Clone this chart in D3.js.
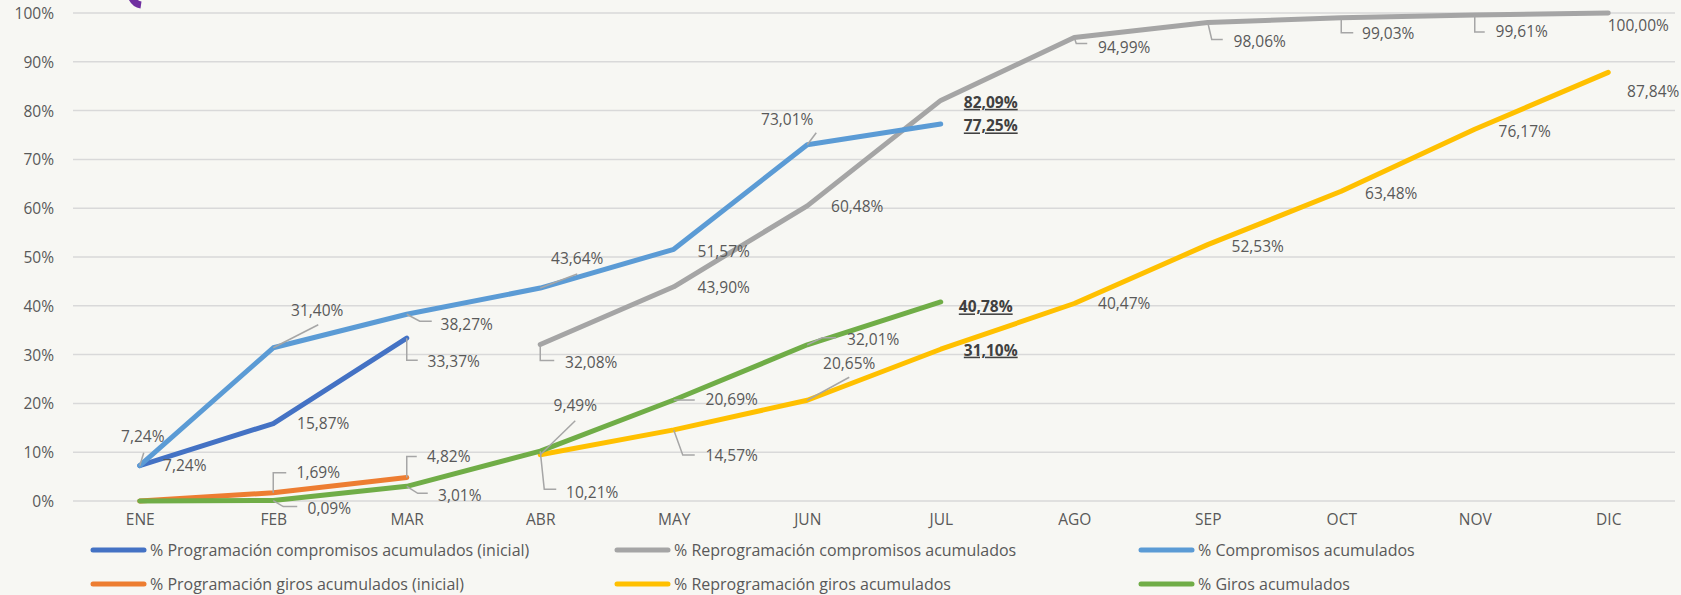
<html>
<head>
<meta charset="utf-8">
<title>Programación y ejecución acumulada</title>
<script src="https://cdn.jsdelivr.net/npm/d3@7"></script>
<style>
  body { margin: 0; background: #F7F7F3; }
  svg text { font-family: "Open Sans", "Noto Sans", sans-serif; }
</style>
</head>
<body>
<svg width="1681" height="595"></svg>
<script type="text/javascript">

// ---- data ----
var months = ["ENE", "FEB", "MAR", "ABR", "MAY", "JUN", "JUL", "AGO", "SEP", "OCT", "NOV", "DIC"];
var yTicks = [0, 10, 20, 30, 40, 50, 60, 70, 80, 90, 100];

var progCompromisos   = [7.24, 15.87, 33.37, null, null, null, null, null, null, null, null, null];
var reprogCompromisos = [null, null, null, 32.08, 43.90, 60.48, 82.09, 94.99, 98.06, 99.03, 99.61, 100.00];
var compromisos       = [7.24, 31.40, 38.27, 43.64, 51.57, 73.01, 77.25, null, null, null, null, null];
var progGiros         = [0, 1.69, 4.82, null, null, null, null, null, null, null, null, null];
var reprogGiros       = [null, null, null, 9.49, 14.57, 20.65, 31.10, 40.47, 52.53, 63.48, 76.17, 87.84];
var giros             = [0, 0.09, 3.01, 10.21, 20.69, 32.01, 40.78, null, null, null, null, null];

var seriesNames = [
  "% Programación compromisos acumulados (inicial)",
  "% Reprogramación compromisos acumulados",
  "% Compromisos acumulados",
  "% Programación giros acumulados (inicial)",
  "% Reprogramación giros acumulados",
  "% Giros acumulados"
];
var seriesColors = ["#4472C4", "#A5A5A5", "#5B9BD5", "#ED7D31", "#FFC000", "#70AD47"];
var seriesValues = [progCompromisos, reprogCompromisos, compromisos, progGiros, reprogGiros, giros];

// label placement relative to each point: [dx, dy, leader points, bold]
var labelLayout = [
  [[45, 0], [50, 0], [47, 23, [[0,0],[0,22],[11,22]]]],
  [null, null, null, [51, 18, [[0,0],[0,16],[14,16]]], [50, 1], [50, 1], [50, 2, null, true],
   [50, 10, [[0,0],[2,6],[13,6]]], [52, 19, [[0,0],[4,17],[15,17]]], [47, 16, [[0,0],[0,15],[12,15]]],
   [47, 17, [[0,0],[0,17],[10,17]]], [30, 13]],
  [[3, -29, [[0,0],[4,-13]]], [44, -37, [[0,0],[45,-23]]], [60, 10, [[0,0],[13,7],[25,7]]],
   [37, -29, [[0,0],[37,-14]]], [50, 2], [-20, -25, [[0,0],[9,-12]]], [50, 2, null, true]],
  [null, [45, -20, [[0,0],[0,-20],[13,-20]]], [42, -21, [[0,0],[0,-21],[10,-21]]]],
  [null, null, null, [35, -49, [[0,0],[35,-34]]], [58, 26, [[0,0],[9,25],[21,25]]], [42, -37, [[0,0],[42,-23]]],
   [50, 1, null, true], [50, 0], [50, 2], [50, 2], [50, 2], [45, 19]],
  [null, [56, 8, [[0,0],[10,6],[24,6]]], [53, 9, [[0,0],[11,7],[21,7]]], [52, 41, [[0,0],[4,38],[16,38]]],
   [58, 0, [[0,0],[21,0]]], [66, -5, [[0,0],[15,-7],[29,-7]]], [45, 5, null, true]]
];

// ---- chart ----
var svg = d3.select("svg");
var plotLeft = 73, plotRight = 1675, plotTop = 13, plotBottom = 501;

var xScale = d3.scalePoint().domain(months).range([plotLeft, plotRight]).padding(0.5);
var yScale = d3.scaleLinear().domain([0, 100]).range([plotBottom, plotTop]);

function fmt(v) {
  return v.toFixed(2).replace(".", ",") + "%";
}

// gridlines
svg.append("g").selectAll("line")
  .data(yTicks)
  .enter().append("line")
  .attr("x1", plotLeft).attr("x2", plotRight)
  .attr("y1", d => yScale(d)).attr("y2", d => yScale(d))
  .attr("stroke", "#D9D9D9").attr("stroke-width", 1.5);

// y axis
var yAxis = svg.append("g")
  .attr("transform", "translate(" + (plotLeft - 19) + ",0)")
  .call(d3.axisLeft(yScale).tickValues(yTicks).tickSize(0).tickPadding(0).tickFormat(d => d + "%"));
yAxis.select(".domain").remove();
yAxis.selectAll("text").attr("fill", "#595959").style("font-size", "15.5px").attr("dy", "0.35em");

// x axis
var xAxis = svg.append("g")
  .attr("transform", "translate(0," + (plotBottom + 13) + ")")
  .call(d3.axisBottom(xScale).tickSize(0).tickPadding(0));
xAxis.select(".domain").remove();
xAxis.selectAll("text").attr("fill", "#595959").style("font-size", "15.5px").attr("dy", "0.71em");

// purple fragment at top
svg.append("path")
  .attr("d", "M131,-4 Q134,4 141,5")
  .attr("fill", "none").attr("stroke", "#7030A0").attr("stroke-width", 7);

var line = d3.line()
  .defined(d => d.v != null)
  .x(d => xScale(d.m))
  .y(d => yScale(d.v));

seriesValues.forEach(function(vals, i) {
  var pts = vals.map((v, j) => ({ m: months[j], v: v }));
  svg.append("path")
    .datum(pts)
    .attr("d", line)
    .attr("fill", "none")
    .attr("stroke", seriesColors[i])
    .attr("stroke-width", 5)
    .attr("stroke-linecap", "round")
    .attr("stroke-linejoin", "round");
});

// data labels
var labels = svg.append("g");
seriesValues.forEach(function(vals, i) {
  vals.forEach(function(v, j) {
    var lay = labelLayout[i][j];
    if (v == null || !lay) return;
    var px = xScale(months[j]), py = yScale(v);
    if (lay[2]) {
      labels.append("path")
        .attr("d", d3.line()(lay[2].map(p => [px + p[0], py + p[1]])))
        .attr("fill", "none").attr("stroke", "#A6A6A6").attr("stroke-width", 1.5);
    }
    var t = labels.append("text")
      .attr("x", px + lay[0]).attr("y", py + lay[1])
      .attr("dy", "0.35em")
      .attr("text-anchor", "middle")
      .style("font-size", "15.5px")
      .attr("fill", lay[3] ? "#404040" : "#595959")
      .text(fmt(v));
    if (lay[3]) t.style("font-weight", "bold").style("text-decoration", "underline");
  });
});

// legend
var legend = svg.append("g");
seriesNames.forEach(function(name, i) {
  var col = i % 3, row = Math.floor(i / 3);
  var lx = 91 + col * 524, ly = 550 + row * 34;
  legend.append("line")
    .attr("x1", lx + 2).attr("x2", lx + 53)
    .attr("y1", ly).attr("y2", ly)
    .attr("stroke", seriesColors[i]).attr("stroke-width", 5).attr("stroke-linecap", "round");
  legend.append("text")
    .attr("x", lx + 59).attr("y", ly).attr("dy", "0.35em")
    .style("font-size", "16px").attr("fill", "#595959")
    .text(name);
});

</script>
</body>
</html>
